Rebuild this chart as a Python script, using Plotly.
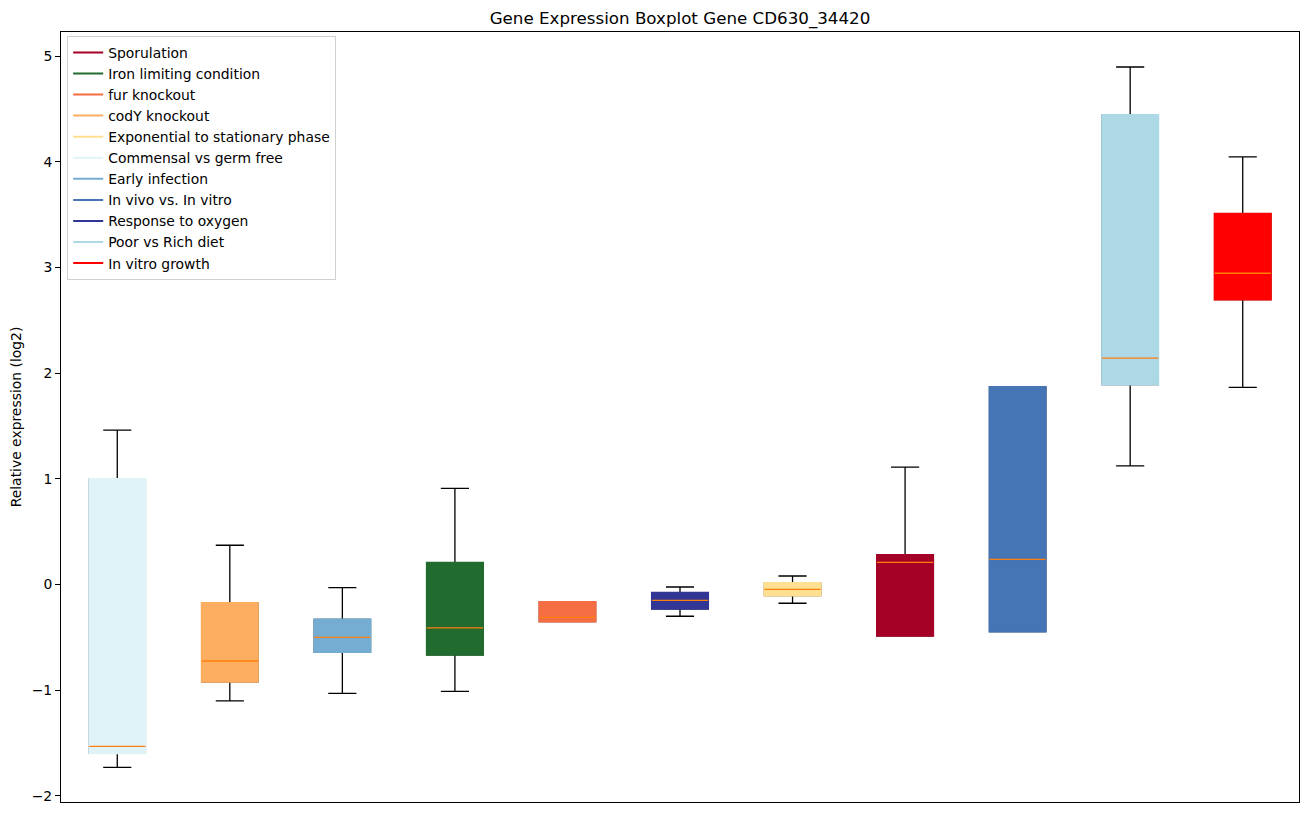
import plotly.graph_objects as go

# Box order (left to right)
box_names = ["Commensal vs germ free", "codY knockout", "Early infection", "Iron limiting condition",
             "fur knockout", "Response to oxygen", "Exponential to stationary phase", "Sporulation",
             "In vivo vs. In vitro", "Poor vs Rich diet", "In vitro growth"]
box_colors = ["#e0f3f8", "#fdae61", "#74add1", "#226b2e", "#f46d43", "#313695", "#fee090",
              "#a50026", "#4575b4", "#add8e6", "#ff0000"]
lower_whisker = [-1.73, -1.10, -1.03, -1.01, -0.35, -0.30, -0.177, -0.486, -0.445, 1.122, 1.866]
q1_values     = [-1.596, -0.921, -0.64, -0.666, -0.35, -0.231, -0.105, -0.486, -0.445, 1.891, 2.695]
median_values = [-1.53, -0.723, -0.50, -0.41, -0.31, -0.149, -0.045, 0.21, 0.239, 2.141, 2.945]
q3_values     = [1.0, -0.174, -0.33, 0.207, -0.165, -0.077, 0.015, 0.28, 1.87, 4.442, 3.509]
upper_whisker = [1.46, 0.372, -0.03, 0.91, -0.165, -0.023, 0.081, 1.11, 1.87, 4.896, 4.045]

# Legend order
legend_names = ["Sporulation", "Iron limiting condition", "fur knockout", "codY knockout",
                "Exponential to stationary phase", "Commensal vs germ free", "Early infection",
                "In vivo vs. In vitro", "Response to oxygen", "Poor vs Rich diet", "In vitro growth"]

positions = list(range(1, len(box_names) + 1))
box_width = 0.5
color_of = dict(zip(box_names, box_colors))

fig = go.Figure()

for i, name in enumerate(box_names):
    p = positions[i]
    # whiskers + caps (black)
    fig.add_trace(go.Box(
        x=[p], q1=[q1_values[i]], median=[median_values[i]], q3=[q3_values[i]],
        lowerfence=[lower_whisker[i]], upperfence=[upper_whisker[i]],
        width=box_width, whiskerwidth=0.5, line=dict(color="black", width=1.3),
        fillcolor=box_colors[i], showlegend=False, hoverinfo="skip", boxpoints=False))
    # colored box body on top
    fig.add_trace(go.Box(
        x=[p], q1=[q1_values[i]], median=[median_values[i]], q3=[q3_values[i]],
        lowerfence=[q1_values[i]], upperfence=[q3_values[i]],
        width=box_width, whiskerwidth=0, line=dict(color=box_colors[i], width=1.8),
        fillcolor=box_colors[i], opacity=1, showlegend=False, hoverinfo="skip", boxpoints=False))

# median lines
mx, my = [], []
for i, p in enumerate(positions):
    mx += [p - box_width / 2, p + box_width / 2, None]
    my += [median_values[i], median_values[i], None]
fig.add_trace(go.Scatter(x=mx, y=my, mode="lines", line=dict(color="#ff7f0e", width=1.3),
                         showlegend=False, hoverinfo="skip"))

# legend entries
for name in legend_names:
    fig.add_trace(go.Scatter(x=[None], y=[None], mode="lines", name=name,
                             line=dict(color=color_of[name], width=2)))

W, H = 1301, 806
fig.update_layout(
    width=W, height=H,
    margin=dict(l=53, r=10, t=24, b=12),
    paper_bgcolor="white", plot_bgcolor="white",
    boxmode="overlay",
    font=dict(family="DejaVu Sans", size=13.9, color="black"),
    title=dict(text="Gene Expression Boxplot Gene CD630_34420", x=0.5, xref="paper",
               y=1 - 10 / H, yref="container", yanchor="middle",
               font=dict(size=16.7, color="black")),
    legend=dict(x=0.005, y=0.995, xanchor="left", yanchor="top",
                bgcolor="rgba(255,255,255,0.8)", bordercolor="#d0d0d0", borderwidth=1,
                font=dict(size=13.9), tracegroupgap=0, itemwidth=30),
    xaxis=dict(range=[0.5, 11.5], showticklabels=False, ticks="", showgrid=False, zeroline=False,
               showline=True, linecolor="black", linewidth=1, mirror=True),
    yaxis=dict(range=[-2.057, 5.227], tickvals=[-2, -1, 0, 1, 2, 3, 4, 5], ticks="outside",
               ticklen=5, tickcolor="black", showgrid=False, zeroline=False, automargin=False,
               showline=True, linecolor="black", linewidth=1, mirror=True,
               title=dict(text="Relative expression (log2)", standoff=8, font=dict(size=13.9))),
)

fig.write_html("out.html")
